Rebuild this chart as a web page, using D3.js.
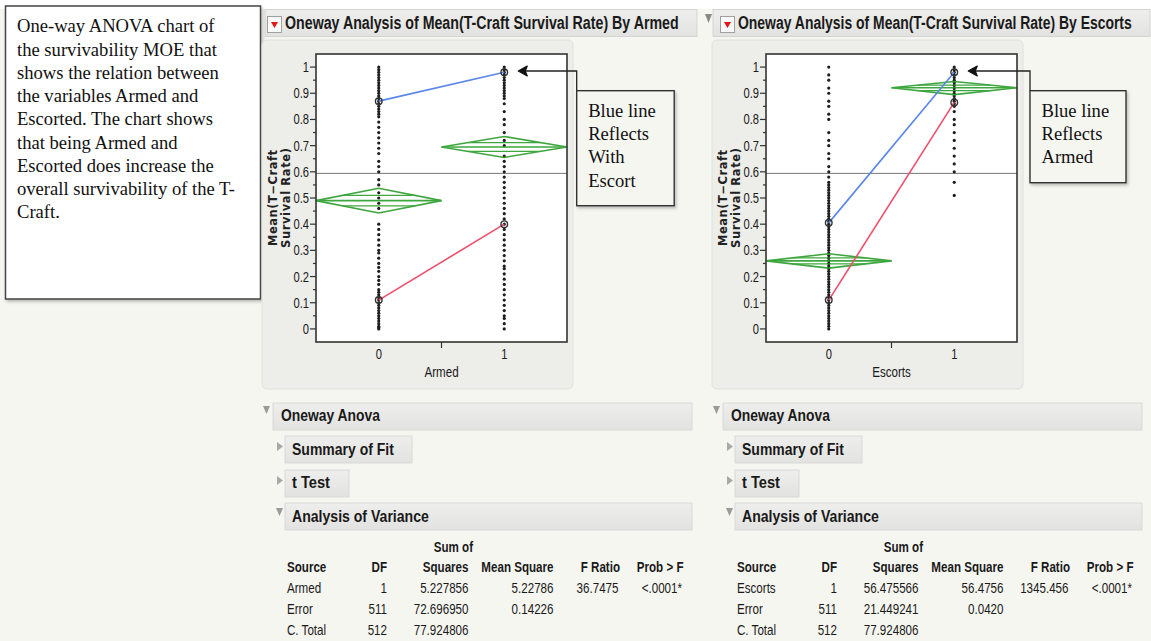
<!DOCTYPE html>
<html><head><meta charset="utf-8">
<script src="https://cdn.jsdelivr.net/npm/d3@7"></script>
<style>
html,body{margin:0;padding:0;background:#f6f6f1;}
svg{display:block;}
</style></head>
<body>
<svg id="c" width="1151" height="641"></svg>
<script>
// ---------------- DATA ----------------
const noteLines = ["One-way ANOVA chart of","the survivability MOE that","shows the relation between","the variables Armed and","Escorted. The chart shows","that being Armed and","Escorted does increase the","overall survivability of the T-","Craft."];
const yTicks = [0,0.1,0.2,0.3,0.4,0.5,0.6,0.7,0.8,0.9,1];
const yTickLabels = ["0","0.1","0.2","0.3","0.4","0.5","0.6","0.7","0.8","0.9","1"];
const xCats = [0,1];
const grandMean = 0.594;

// Armed chart
const armedTitle = "Oneway Analysis of Mean(T-Craft Survival Rate) By Armed";
const armedPts0 = [0,0.005,0.01,0.02,0.03,0.04,0.05,0.06,0.07,0.08,0.09,0.1,0.11,0.12,0.13,0.14,0.15,0.17,0.185,0.2,0.22,0.235,0.25,0.27,0.29,0.3,0.32,0.34,0.36,0.38,0.4,0.46,0.48,0.5,0.52,0.55,0.57,0.6,0.62,0.64,0.67,0.69,0.71,0.73,0.75,0.77,0.79,0.81,0.82,0.83,0.84,0.85,0.86,0.87,0.88,0.89,0.9,0.91,0.92,0.93,0.94,0.95,0.96,0.97,0.98,0.99,1];
const armedPts1 = [0,0.02,0.04,0.05,0.07,0.09,0.11,0.13,0.15,0.17,0.19,0.21,0.23,0.24,0.26,0.28,0.3,0.32,0.34,0.36,0.38,0.4,0.42,0.44,0.46,0.48,0.5,0.52,0.54,0.56,0.58,0.6,0.62,0.64,0.66,0.7,0.72,0.75,0.78,0.8,0.83,0.86,0.88,0.89,0.9,0.91,0.92,0.93,0.94,0.95,0.96,0.97,0.98,0.99,1];
const armedMean = [0.49, 0.695];
const armedLo = [0.443, 0.655];
const armedHi = [0.537, 0.735];
const armedBlue = [0.87, 0.98];   // with escort
const armedRed = [0.11, 0.40];    // without escort
const armedNote = ["Blue line","Reflects","With","Escort"];

// Escorts chart
const escTitle = "Oneway Analysis of Mean(T-Craft Survival Rate) By Escorts";
const escPts0 = [0,0.01,0.02,0.03,0.04,0.05,0.06,0.07,0.08,0.09,0.1,0.11,0.12,0.13,0.14,0.15,0.16,0.17,0.18,0.19,0.2,0.21,0.22,0.23,0.24,0.25,0.26,0.27,0.28,0.29,0.3,0.31,0.32,0.33,0.34,0.35,0.36,0.37,0.38,0.39,0.4,0.41,0.42,0.43,0.44,0.45,0.46,0.47,0.48,0.49,0.5,0.51,0.52,0.53,0.54,0.55,0.56,0.58,0.6,0.62,0.65,0.67,0.7,0.72,0.75,0.8,0.82,0.85,0.87,0.9,0.92,0.95,0.97,1];
const escPts1 = [0.51,0.56,0.6,0.63,0.66,0.69,0.72,0.75,0.78,0.8,0.83,0.85,0.86,0.87,0.88,0.89,0.9,0.91,0.92,0.93,0.94,0.95,0.96,0.97,0.98,0.99,1];
const escMean = [0.26, 0.921];
const escLo = [0.232, 0.895];
const escHi = [0.287, 0.945];
const escBlue = [0.405, 0.98];    // armed
const escRed = [0.11, 0.865];     // not armed
const escNote = ["Blue line","Reflects","Armed"];

// ANOVA tables
const anovaHeaders = ["Source","DF","Squares","Mean Square","F Ratio","Prob > F"];
const armedRows = [["Armed","1","5.227856","5.22786","36.7475","<.0001*"],["Error","511","72.696950","0.14226","",""],["C. Total","512","77.924806","","",""]];
const escRows = [["Escorts","1","56.475566","56.4756","1345.456","<.0001*"],["Error","511","21.449241","0.0420","",""],["C. Total","512","77.924806","","",""]];
const sections = ["Oneway Anova","Summary of Fit","t Test","Analysis of Variance"];

// ---------------- DRAW ----------------
const svg = d3.select("#c");
const SANS = "'Liberation Sans', Arial, sans-serif";
const SERIF = "'Liberation Serif', 'Times New Roman', serif";

const defs = svg.append("defs");
const gbar = defs.append("linearGradient").attr("id","bar").attr("x1",0).attr("y1",0).attr("x2",0).attr("y2",1);
gbar.append("stop").attr("offset","0%").attr("stop-color","#eeeeec");
gbar.append("stop").attr("offset","100%").attr("stop-color","#e2e2e0");
const sh = defs.append("filter").attr("id","shadow").attr("x","-10%").attr("y","-10%").attr("width","130%").attr("height","130%");
sh.append("feDropShadow").attr("dx",1.5).attr("dy",2).attr("stdDeviation",1.5).attr("flood-color","#000").attr("flood-opacity",0.25);

// white top band
svg.append("rect").attr("x",0).attr("y",0).attr("width",1151).attr("height",9).attr("fill","#fff");

// helper: condensed text
function ctext(g, x, y, s, o) {
  o = o || {};
  const t = g.append("text")
    .attr("transform", `translate(${x},${y}) scale(${o.sx||0.78},1)`)
    .attr("font-family", SANS)
    .attr("font-size", o.size || 14.5)
    .attr("font-weight", o.weight || "normal")
    .attr("fill", o.fill || "#1a1a1a")
    .attr("text-anchor", o.anchor || "start")
    .text(s);
  return t;
}
// condensed text scaled to a measured target width
function fitText(g, x, y, s, len, o) {
  o = o || {};
  const t = g.append("text")
    .attr("font-family", SANS).attr("font-size", o.size||18)
    .attr("font-weight", o.weight||"bold").attr("fill", o.fill||"#1a1a1a").text(s);
  const nat = t.node().getComputedTextLength() || len;
  t.attr("transform", `translate(${x},${y}) scale(${len/nat},1)`);
  return t;
}
function triDown(g, x, y, w, h, fill) {
  g.append("path").attr("d",`M${x},${y}L${x+w},${y}L${x+w/2},${y+h}Z`).attr("fill",fill);
}
function triRight(g, x, y, w, h, fill) {
  g.append("path").attr("d",`M${x},${y}L${x+w},${y+h/2}L${x},${y+h}Z`).attr("fill",fill);
}

// ---- note text box
svg.append("rect").attr("x",5.5).attr("y",6).attr("width",255).attr("height",293)
  .attr("fill","#fff").attr("stroke","#444").attr("stroke-width",1.5).attr("filter","url(#shadow)");
svg.append("g").selectAll("text").data(noteLines).join("text")
  .attr("x",17).attr("y",(d,i)=>32.3 + i*23.25)
  .attr("font-family",SERIF).attr("font-size",18.6).attr("fill","#111").text(d=>d);

function chart(cfg) {
  const ox = cfg.ox;
  const g = svg.append("g");
  // header
  if (cfg.grayTri) triDown(g, ox-8, 14, 7, 9, "#8a8a8a");
  g.append("rect").attr("x",ox).attr("y",9.5).attr("width",cfg.barW).attr("height",27)
    .attr("fill","url(#bar)").attr("stroke","#d4d4d2");
  g.append("rect").attr("x",cfg.redX+0.5).attr("y",16.5).attr("width",14).attr("height",16)
    .attr("fill","#fafafa").attr("stroke","#a0a0a0");
  triDown(g, cfg.redX+4, 22, 7, 6, "#e01818");
  fitText(g, cfg.redX+18, 29, cfg.title, 394, {size:19});

  // panel
  g.append("rect").attr("x",cfg.panelX).attr("y",40).attr("width",311).attr("height",349)
    .attr("rx",5).attr("fill","#edede9").attr("stroke","#e0e0dc");

  const x = d3.scaleLinear().domain([-0.5,1.5]).range([cfg.plotX, cfg.plotX+251]);
  const y = d3.scaleLinear().domain([-0.05,1.05]).range([342,54]);

  g.append("rect").attr("x",x(-0.5)).attr("y",y(1.05)).attr("width",x(1.5)-x(-0.5)).attr("height",y(-0.05)-y(1.05))
    .attr("fill","#fff");

  // grand mean
  g.append("line").attr("x1",x(-0.5)).attr("x2",x(1.5)).attr("y1",y(grandMean)).attr("y2",y(grandMean))
    .attr("stroke","#777").attr("stroke-width",1);

  // points
  const pts = [];
  cfg.pts0.forEach(v=>pts.push([0,v]));
  cfg.pts1.forEach(v=>pts.push([1,v]));
  g.append("g").selectAll("circle").data(pts).join("circle")
    .attr("cx",d=>x(d[0])).attr("cy",d=>y(d[1])).attr("r",1.6).attr("fill","#1e1e1e");

  // means diamonds
  const green = "#2a9d2a";
  xCats.forEach((c,i)=>{
    const m = cfg.mean[i], lo = cfg.lo[i], hi = cfg.hi[i];
    const xl = x(c-0.5), xr = x(c+0.5), xc = x(c);
    const dg = g.append("g").attr("fill","none").attr("stroke",green).attr("stroke-width",1.6).attr("opacity",0.9);
    dg.append("path").attr("d",`M${xl},${y(m)}L${xc},${y(hi)}L${xr},${y(m)}L${xc},${y(lo)}Z`);
    dg.append("line").attr("x1",xl).attr("x2",xr).attr("y1",y(m)).attr("y2",y(m));
    [hi, lo].forEach(b=>{
      const ov = m + (b-m)*0.42;
      const f = 1-0.42;
      dg.append("line").attr("x1",xc-(xc-xl)*f).attr("x2",xc+(xr-xc)*f).attr("y1",y(ov)).attr("y2",y(ov)).attr("stroke-width",1.2);
    });
  });

  // interaction lines
  const line = d3.line().x((d,i)=>x(xCats[i])).y(d=>y(d));
  g.append("path").attr("d",line(cfg.blue)).attr("fill","none").attr("stroke","#5a86ea").attr("stroke-width",1.6);
  g.append("path").attr("d",line(cfg.red)).attr("fill","none").attr("stroke","#ee4f6c").attr("stroke-width",1.6);
  [cfg.blue, cfg.red].forEach(arr=>{
    g.append("g").selectAll("circle").data(arr).join("circle")
      .attr("cx",(d,i)=>x(xCats[i])).attr("cy",d=>y(d)).attr("r",3.3)
      .attr("fill","none").attr("stroke","#333").attr("stroke-width",1.4);
  });

  // frame
  g.append("rect").attr("x",x(-0.5)).attr("y",y(1.05)).attr("width",x(1.5)-x(-0.5)).attr("height",y(-0.05)-y(1.05))
    .attr("fill","none").attr("stroke","#333").attr("stroke-width",1.6);

  // y axis ticks
  const ax = g.append("g").attr("stroke","#333").attr("stroke-width",1.2);
  const minor = [0.05,0.15,0.25,0.35,0.45,0.55,0.65,0.75,0.85,0.95];
  yTicks.forEach(v=>ax.append("line").attr("x1",x(-0.5)-6).attr("x2",x(-0.5)).attr("y1",y(v)).attr("y2",y(v)));
  minor.forEach(v=>ax.append("line").attr("x1",x(-0.5)-3).attr("x2",x(-0.5)).attr("y1",y(v)).attr("y2",y(v)));
  yTicks.forEach((v,i)=>ctext(g, x(-0.5)-7, y(v)+5, yTickLabels[i], {anchor:"end", size:14, sx:0.8}));
  // x axis
  ax.append("line").attr("x1",x(0.5)).attr("x2",x(0.5)).attr("y1",y(-0.05)).attr("y2",y(-0.05)+6);
  xCats.forEach(c=>ctext(g, x(c), 359, String(c), {anchor:"middle", size:14, sx:0.8}));
  ctext(g, x(0.5), 376.5, cfg.xName, {anchor:"middle", size:14.5, sx:0.8});

  // y title
  const yt = g.append("g").attr("font-family","'DejaVu Sans', Verdana, sans-serif").attr("font-size",11.5).attr("font-weight","bold").attr("fill","#222");
  yt.append("text").attr("transform",`translate(${cfg.panelX+15},198) rotate(-90)`).attr("text-anchor","middle")
    .attr("textLength",96).attr("lengthAdjust","spacing").text("Mean(T\u2212Craft");
  yt.append("text").attr("transform",`translate(${cfg.panelX+28},198) rotate(-90)`).attr("text-anchor","middle")
    .attr("textLength",100).attr("lengthAdjust","spacing").text("Survival Rate)");

  // callout
  const tipX = x(1)+14, tipY = y(0.985);
  g.append("path").attr("d",`M${tipX+2},${tipY}H${cfg.boxX}V${90.7}`).attr("fill","none").attr("stroke","#222").attr("stroke-width",1.3);
  g.append("path").attr("d",`M${tipX},${tipY}L${tipX+9},${tipY-5}L${tipX+7},${tipY}L${tipX+9},${tipY+5}Z`)
    .attr("fill","#111").attr("stroke","#111").attr("stroke-width",1.2).attr("stroke-linejoin","round");
  g.append("rect").attr("x",cfg.boxX).attr("y",90.7).attr("width",cfg.boxW).attr("height",cfg.boxH)
    .attr("fill","#f6f6f1").attr("stroke","#333").attr("stroke-width",1.4).attr("filter","url(#shadow)");
  cfg.note.forEach((s,i)=>g.append("text").attr("x",cfg.boxX+11.5).attr("y",116.7+i*23.3)
    .attr("font-family",SERIF).attr("font-size",18.6).attr("fill","#111").text(s));

  // sections
  const tx = cfg.tx;
  triDown(g, tx+3, 406, 7, 8, "#9a9a9a");
  g.append("rect").attr("x",tx+13).attr("y",403).attr("width",419).attr("height",27).attr("fill","url(#bar)").attr("stroke","#d8d8d6");
  fitText(g, tx+21, 421, sections[0], 99, {size:17});
  triRight(g, tx+17, 442, 6, 9, "#a8a8a8");
  g.append("rect").attr("x",tx+25).attr("y",436).attr("width",127).attr("height",27).attr("fill","url(#bar)").attr("stroke","#d8d8d6");
  fitText(g, tx+32, 455, sections[1], 102, {size:17});
  triRight(g, tx+17, 476, 6, 9, "#a8a8a8");
  g.append("rect").attr("x",tx+25).attr("y",470).attr("width",64).attr("height",27).attr("fill","url(#bar)").attr("stroke","#d8d8d6");
  fitText(g, tx+32, 488, sections[2], 38, {size:17});
  triDown(g, tx+16, 508, 7, 8, "#9a9a9a");
  g.append("rect").attr("x",tx+25).attr("y",503).attr("width",407).attr("height",27).attr("fill","url(#bar)").attr("stroke","#d8d8d6");
  fitText(g, tx+32, 521.5, sections[3], 137, {size:17});

  // table
  const colX = [tx+27, tx+127, tx+208.5, tx+293.5, tx+360, tx+423.5];
  const anchors = ["start","end","end","end","end","end"];
  ctext(g, tx+213, 551.5, "Sum of", {anchor:"end", weight:"bold", size:14.5, sx:0.8});
  anovaHeaders.forEach((h,j)=>ctext(g, colX[j], 571.5, h, {anchor:anchors[j], weight:"bold", size:14.5, sx:0.8}));
  cfg.rows.forEach((r,i)=>r.forEach((c,j)=>{
    if (!c) return;
    let xx = colX[j];
    if (j===4) xx -= 1.5;
    if (j===5) xx -= 1.5;
    ctext(g, xx, 593.3 + i*21, c, {anchor:anchors[j], size:14.5, sx:0.8});
  }));
}

chart({ox:265, barW:432, redX:267, grayTri:false, title:armedTitle, panelX:262, plotX:316,
  pts0:armedPts0, pts1:armedPts1, mean:armedMean, lo:armedLo, hi:armedHi, blue:armedBlue, red:armedRed,
  xName:"Armed", boxX:576.7, boxW:97.5, boxH:115, note:armedNote, tx:260, rows:armedRows});
chart({ox:713, barW:437, redX:720, grayTri:true, title:escTitle, panelX:712, plotX:766,
  pts0:escPts0, pts1:escPts1, mean:escMean, lo:escLo, hi:escHi, blue:escBlue, red:escRed,
  xName:"Escorts", boxX:1030, boxW:96, boxH:92, note:escNote, tx:710, rows:escRows});
</script>
</body></html>
